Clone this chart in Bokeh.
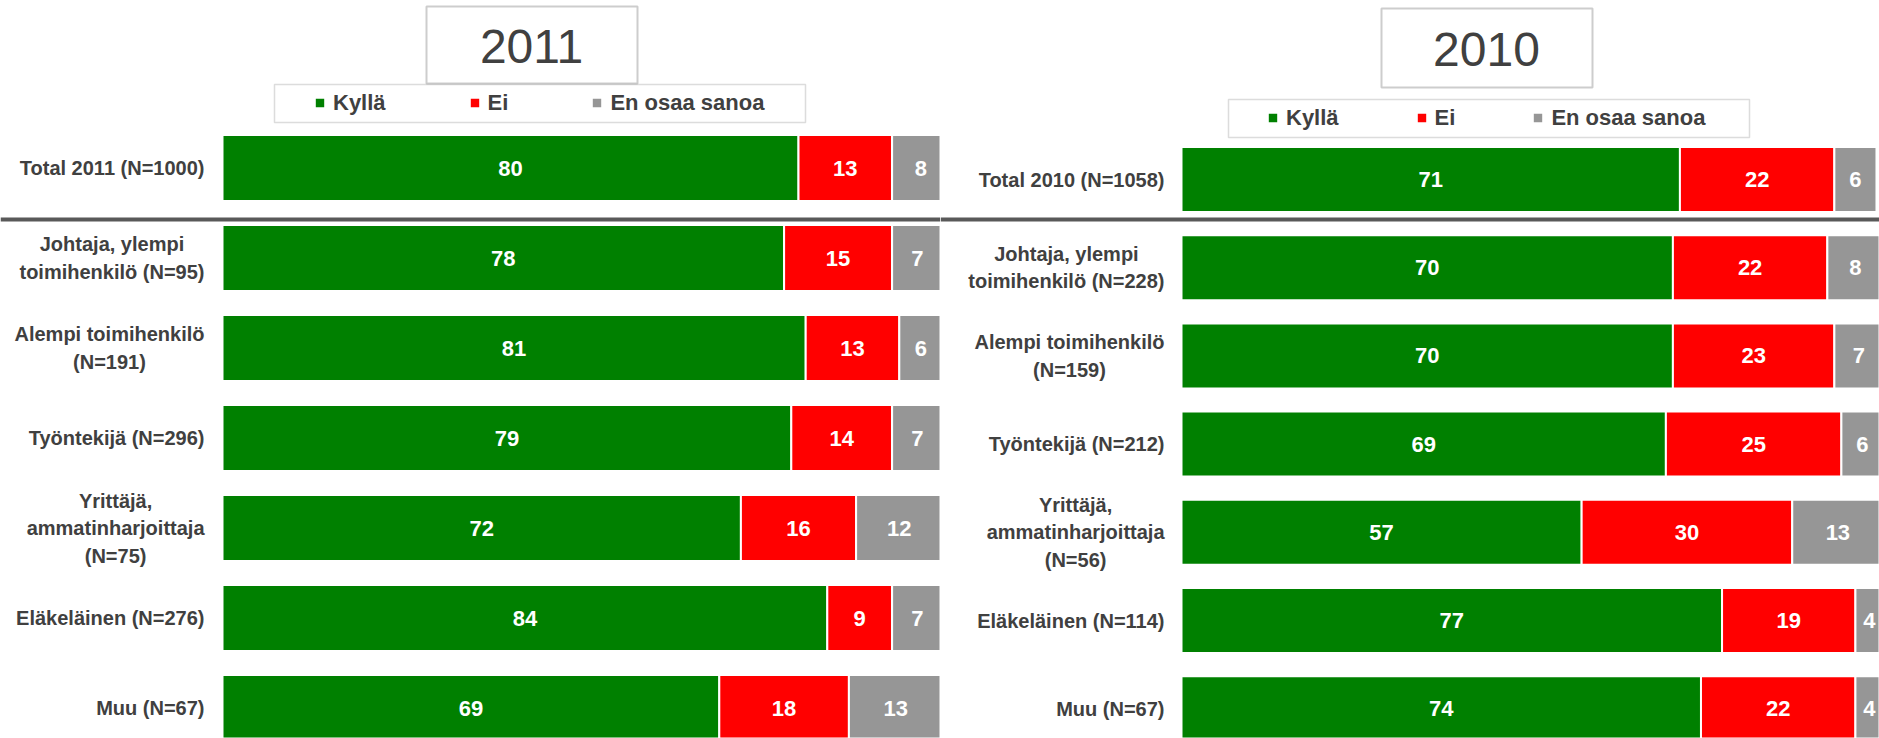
from bokeh.plotting import figure
from bokeh.layouts import row
from bokeh.models import ColumnDataSource, Range1d, Span, BoxAnnotation, Label
from bokeh.embed import file_html
from bokeh.resources import INLINE
from bokeh.core.properties import value

# ---------------- data ----------------
series = ["Kyllä", "Ei", "En osaa sanoa"]
colors = ["#008000", "#FF0000", "#969696"]

cats_2011 = ["Total 2011 (N=1000)", "Johtaja, ylempi\ntoimihenkilö (N=95)",
             "Alempi toimihenkilö\n(N=191)", "Työntekijä (N=296)",
             "Yrittäjä,\nammatinharjoittaja\n(N=75)", "Eläkeläinen (N=276)", "Muu (N=67)"]
kylla_2011 = [80, 78, 81, 79, 72, 84, 69]
ei_2011 = [13, 15, 13, 14, 16, 9, 18]
eos_2011 = [8, 7, 6, 7, 12, 7, 13]

cats_2010 = ["Total 2010 (N=1058)", "Johtaja, ylempi\ntoimihenkilö (N=228)",
             "Alempi toimihenkilö\n(N=159)", "Työntekijä (N=212)",
             "Yrittäjä,\nammatinharjoittaja\n(N=56)", "Eläkeläinen (N=114)", "Muu (N=67)"]
kylla_2010 = [71, 70, 70, 69, 57, 77, 74]
ei_2010 = [22, 22, 23, 25, 30, 19, 22]
eos_2010 = [6, 8, 7, 6, 13, 4, 4]

FONT = "Liberation Sans"
TXT = "#404040"

# Arial-Bold-like advance widths (per 1000 em) to centre multi-line labels
_W = {" ": 278, "(": 333, ")": 333, ",": 278, "=": 584, "A": 722, "E": 667, "J": 556,
      "K": 722, "M": 833, "N": 722, "T": 611, "Y": 667, "a": 556, "e": 556, "h": 611,
      "i": 278, "j": 278, "k": 556, "l": 278, "m": 889, "n": 611, "o": 611, "p": 611,
      "r": 389, "s": 556, "t": 333, "u": 611, "y": 556, "ä": 556, "ö": 611}


def text_width(s, size):
    return sum(_W.get(c, 556) for c in s) * size / 1000.0


def panel(title, cats, k, e, g, W, H, zero_px, ppu, row0_px, pitch, bar_px, sep_px,
          tbox, tcenter, lbox, leg_x, leg_spacing, gap):
    x0 = -zero_px / ppu
    x1 = (W - zero_px) / ppu
    ytop = -row0_px / pitch
    ybot = (H - row0_px) / pitch

    def px2x(px):
        return x0 + px / ppu

    def px2y(py):
        return ytop + py / pitch

    p = figure(width=W, height=H, x_range=Range1d(x0, x1), y_range=Range1d(ybot, ytop),
               output_backend="svg", toolbar_location=None, x_axis_location=None,
               y_axis_location=None, min_border=0, outline_line_color=None)
    p.grid.visible = False
    p.min_border_left = p.min_border_right = p.min_border_top = p.min_border_bottom = 0

    n = len(cats)
    ys = list(range(n))
    src = ColumnDataSource(dict(y=ys, cat=cats, kylla=k, ei=e, eos=g))
    p.hbar_stack(["kylla", "ei", "eos"], y="y", height=bar_px / pitch, color=colors,
                 line_color="white", line_width=2, source=src, legend_label=series)

    # value labels
    xs, yy, tt = [], [], []
    for i in range(n):
        left = 0
        for v in (k[i], e[i], g[i]):
            xs.append(left + v / 2.0)
            yy.append(i)
            tt.append(str(v))
            left += v
    p.text(x=xs, y=yy, text=tt, text_align="center", text_baseline="middle",
           text_color="white", text_font=value(FONT), text_font_style="bold",
           text_font_size="22px")

    # category labels
    single = [(i, c) for i, c in enumerate(cats) if "\n" not in c]
    multi = [(i, c) for i, c in enumerate(cats) if "\n" in c]
    p.text(x=[0] * len(single), y=[i for i, _ in single], text=[c for _, c in single],
           x_offset=-gap, text_align="right", text_baseline="middle", text_color=TXT,
           text_font=value(FONT), text_font_style="bold", text_font_size="20px")
    for i, c in multi:
        wmax = max(text_width(s, 20) for s in c.split("\n"))
        p.text(x=[0], y=[i], text=[c], x_offset=-(gap + wmax / 2.0), text_align="center",
               text_baseline="middle", text_color=TXT, text_font=value(FONT),
               text_font_style="bold", text_font_size="20px", text_line_height=1.25)

    # separator
    p.add_layout(Span(location=px2y(sep_px), dimension="width", line_color="#595959",
                      line_width=4))

    # title box
    p.add_layout(BoxAnnotation(left=px2x(tbox[0]), right=px2x(tbox[1]), top=px2y(tbox[2]),
                               bottom=px2y(tbox[3]), fill_alpha=0, line_color="#595959",
                               line_width=2))
    p.add_layout(Label(x=px2x(tcenter[0]), y=px2y(tcenter[1]), text=title,
                       text_align="center", text_baseline="middle", text_color=TXT,
                       text_font=FONT, text_font_size="48px"))

    # legend box + legend
    p.add_layout(BoxAnnotation(left=px2x(lbox[0]), right=px2x(lbox[1]), top=px2y(lbox[2]),
                               bottom=px2y(lbox[3]), fill_alpha=0, line_color="#8c8c8c",
                               line_width=1.5))
    leg = p.legend[0]
    leg.orientation = "horizontal"
    leg.glyph_width = 13
    leg.glyph_height = 13
    leg.label_standoff = 7
    leg.spacing = leg_spacing
    leg.padding = 0
    leg.margin = 0
    leg.border_line_alpha = 0
    leg.background_fill_alpha = 0
    leg.label_text_font = FONT
    leg.label_text_font_style = "bold"
    leg.label_text_font_size = "22px"
    leg.label_text_color = TXT
    lh = 25
    mid = (lbox[2] + lbox[3]) / 2.0
    leg.location = (leg_x, H - (mid + lh / 2.0))
    return p


H = 738
pL = panel("2011", cats_2011, kylla_2011, ei_2011, eos_2011, W=940, H=H, zero_px=222,
           ppu=7.2, row0_px=167.5, pitch=90.0, bar_px=66, sep_px=219,
           tbox=(426, 637, 6, 83), tcenter=(531, 46), lbox=(274, 805, 84, 122),
           leg_x=313, leg_spacing=82, gap=18)
pR = panel("2010", cats_2010, kylla_2010, ei_2010, eos_2010, W=939, H=H, zero_px=241,
           ppu=7.02, row0_px=179, pitch=88.2, bar_px=65, sep_px=219,
           tbox=(441, 652, 8, 87), tcenter=(546, 49), lbox=(288, 809, 99, 137),
           leg_x=326, leg_spacing=76, gap=17)

layout = row(pL, pR, spacing=0)
open("out.html", "w").write(file_html(layout, INLINE))
